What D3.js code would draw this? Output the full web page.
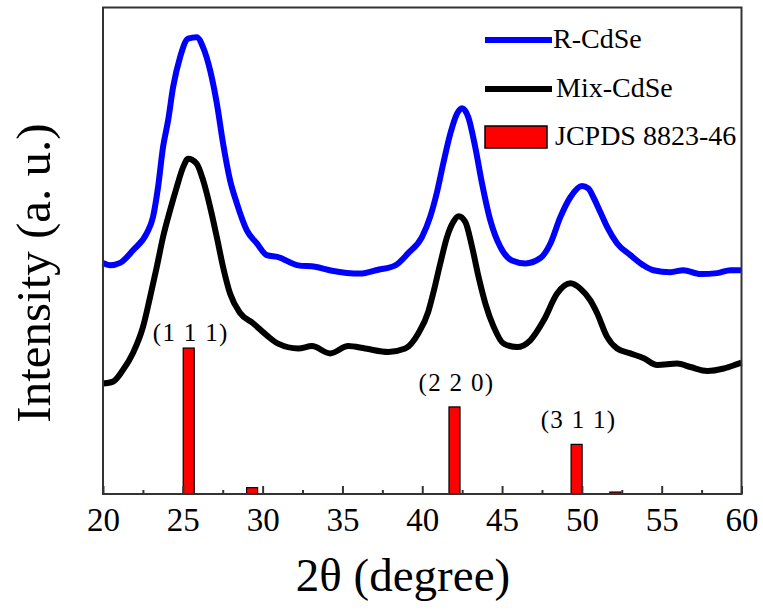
<!DOCTYPE html>
<html>
<head>
<meta charset="utf-8">
<script src="https://cdn.jsdelivr.net/npm/d3@7"></script>
<style>
  body { margin: 0; background: #fff; }
</style>
</head>
<body>
<svg width="763" height="610"></svg>
<script>
// 2theta / intensity (a.u.)
const rTheta = [20.00, 20.44, 21.07, 21.88, 22.74, 23.13, 23.45, 23.76, 24.08, 24.39, 24.83, 25.33, 25.87, 26.27, 26.71, 27.13, 27.52, 27.96, 28.38, 29.01, 29.64, 30.26, 30.97, 32.23, 33.29, 34.34, 36.11, 37.24, 38.31, 39.12, 39.98, 40.50, 40.92, 41.32, 41.76, 42.18, 42.49, 42.88, 43.32, 43.74, 44.26, 44.89, 45.62, 46.46, 47.40, 48.03, 48.65, 49.28, 50.01, 50.40, 50.72, 51.16, 51.58, 52.21, 53.04, 53.86, 54.48, 55.55, 56.36, 57.43, 58.48, 59.31, 60.00];
const rInt   = [47.5, 47.0, 47.5, 50.1, 53.6, 56.9, 63.1, 71.3, 76.8, 83.6, 89.8, 93.6, 93.9, 91.8, 87.1, 80.3, 72.1, 64.5, 59.8, 54.2, 51.5, 49.1, 48.7, 47.0, 46.7, 45.9, 45.3, 46.1, 47.0, 49.5, 52.8, 57.0, 62.0, 68.0, 74.1, 78.2, 79.3, 77.5, 71.3, 63.9, 56.3, 50.8, 48.0, 47.4, 48.5, 51.5, 56.9, 61.0, 63.3, 62.8, 61.0, 57.9, 54.9, 51.5, 49.1, 47.0, 46.0, 45.6, 46.0, 45.2, 45.4, 46.0, 46.0];

const mixTheta = [20.00, 20.63, 21.25, 21.88, 22.51, 22.95, 23.37, 23.76, 24.20, 24.62, 25.02, 25.33, 25.87, 26.27, 26.71, 27.13, 27.52, 27.96, 28.59, 29.40, 30.26, 30.97, 32.23, 33.09, 34.23, 35.36, 36.43, 37.87, 38.93, 39.75, 40.38, 40.69, 41.13, 41.55, 41.94, 42.28, 42.70, 43.12, 43.53, 43.95, 44.47, 45.10, 45.94, 46.77, 47.61, 48.45, 49.28, 49.91, 50.53, 50.95, 51.58, 52.21, 53.04, 53.88, 54.72, 55.97, 56.80, 57.85, 58.89, 59.73, 60.00];
const mixInt   = [22.7, 23.1, 25.5, 29.0, 34.4, 40.5, 46.7, 52.8, 58.3, 63.1, 67.2, 68.9, 67.9, 64.5, 59.0, 52.8, 46.7, 41.2, 37.2, 35.1, 32.6, 30.9, 29.9, 30.4, 28.9, 30.4, 29.9, 29.2, 29.9, 33.0, 37.5, 41.3, 47.4, 52.8, 55.9, 57.1, 55.9, 50.8, 44.6, 39.2, 34.4, 30.9, 30.2, 31.6, 35.7, 41.2, 43.3, 42.2, 39.8, 37.2, 32.3, 29.9, 28.9, 27.9, 26.5, 26.8, 26.1, 25.3, 25.8, 26.7, 27.0];

// JCPDS 8823-46 reference lines
const refTheta = [25.37, 29.34, 42.02, 49.67, 52.10];
const refInt   = [30.0, 1.3, 17.9, 10.2, 0.4];
const refHkl   = ["(1 1 1)", "", "(2 2 0)", "(3 1 1)", ""];

const xTicks = [20, 25, 30, 35, 40, 45, 50, 55, 60];
const xMinor = [22.5, 27.5, 32.5, 37.5, 42.5, 47.5, 52.5, 57.5];

const legendNames = ["R-CdSe", "Mix-CdSe", "JCPDS 8823-46"];

const serif = '"Liberation Serif", "Times New Roman", "DejaVu Serif", serif';
const svg = d3.select('svg');
const plotLeft = 103, plotRight = 741.5, plotTop = 7.5, plotBottom = 494;

const x = d3.scaleLinear().domain([20, 60]).range([plotLeft, plotRight]);
const y = d3.scaleLinear().domain([0, 100]).range([plotBottom, plotTop]);

// reference bars
const barW = x(20.69) - x(20);
svg.selectAll('rect.ref')
  .data(refTheta)
  .enter().append('rect')
  .attr('class', 'ref')
  .attr('x', d => x(d) - barW / 2)
  .attr('y', (d, i) => y(refInt[i]))
  .attr('width', barW)
  .attr('height', (d, i) => y(0) - y(refInt[i]))
  .attr('fill', '#ff0000')
  .attr('stroke', '#000')
  .attr('stroke-width', 1.2);

// hkl labels, the first one sits closer to its bar
const labelGap = [7, 0, 16, 16, 0];
svg.selectAll('text.hkl')
  .data(refTheta)
  .enter().append('text')
  .attr('class', 'hkl')
  .attr('x', d => x(d) + 2)
  .attr('y', (d, i) => y(refInt[i]) - labelGap[i])
  .attr('text-anchor', 'middle')
  .style('font-family', serif)
  .style('font-size', '25px')
  .style('letter-spacing', '1.3px')
  .text((d, i) => refHkl[i]);

// patterns
const line = d3.line()
  .x(d => x(d[0]))
  .y(d => y(d[1]))
  .curve(d3.curveMonotoneX);

svg.append('path')
  .datum(mixTheta.map((t, i) => [t, mixInt[i]]))
  .attr('d', line)
  .attr('fill', 'none')
  .attr('stroke', '#000')
  .attr('stroke-width', 6)
  .attr('stroke-linejoin', 'round');

svg.append('path')
  .datum(rTheta.map((t, i) => [t, rInt[i]]))
  .attr('d', line)
  .attr('fill', 'none')
  .attr('stroke', '#0000ff')
  .attr('stroke-width', 6)
  .attr('stroke-linejoin', 'round');

// frame
svg.append('rect')
  .attr('x', plotLeft).attr('y', plotTop)
  .attr('width', plotRight - plotLeft).attr('height', plotBottom - plotTop)
  .attr('fill', 'none')
  .attr('stroke', '#333')
  .attr('stroke-width', 2);

// bottom axis, ticks pointing inward
const xAxis = svg.append('g')
  .attr('transform', `translate(0,${plotBottom})`)
  .call(d3.axisBottom(x).tickValues(xTicks).tickSize(-8).tickPadding(14).tickFormat(d3.format('d')));
xAxis.select('.domain').remove();
xAxis.selectAll('line').attr('stroke', '#333').attr('stroke-width', 2);
xAxis.selectAll('text')
  .style('font-family', serif)
  .style('font-size', '33px')
  .attr('fill', '#000')
  .attr('dy', '0.71em').attr('y', 14);

svg.append('g')
  .attr('transform', `translate(0,${plotBottom})`)
  .call(d3.axisBottom(x).tickValues(xMinor).tickSize(-4).tickFormat(''))
  .call(g => g.select('.domain').remove())
  .selectAll('line').attr('stroke', '#333').attr('stroke-width', 2);

// axis titles
svg.append('text')
  .attr('x', 403).attr('y', 591)
  .attr('text-anchor', 'middle')
  .style('font-family', serif)
  .style('font-size', '47px')
  .text('2θ (degree)');

svg.append('text')
  .attr('transform', 'translate(50,273) rotate(-90)')
  .attr('text-anchor', 'middle')
  .style('font-family', serif)
  .style('font-size', '49px')
  .text('Intensity (a. u.)');

// legend
const legY = [40, 89, 137];
const leg = svg.append('g');
leg.append('line').attr('x1', 485).attr('x2', 552).attr('y1', legY[0]).attr('y2', legY[0])
  .attr('stroke', '#0000ff').attr('stroke-width', 6);
leg.append('line').attr('x1', 485).attr('x2', 552).attr('y1', legY[1]).attr('y2', legY[1])
  .attr('stroke', '#000').attr('stroke-width', 6);
leg.append('rect').attr('x', 485).attr('y', 126).attr('width', 62).attr('height', 22)
  .attr('fill', '#ff0000').attr('stroke', '#000').attr('stroke-width', 1.5);
leg.selectAll('text')
  .data(legendNames)
  .enter().append('text')
  .attr('x', (d, i) => [553, 556, 555][i])
  .attr('y', (d, i) => legY[i] + 8)
  .style('font-family', serif)
  .style('font-size', '28px')
  .text(d => d);
</script>
</body>
</html>
